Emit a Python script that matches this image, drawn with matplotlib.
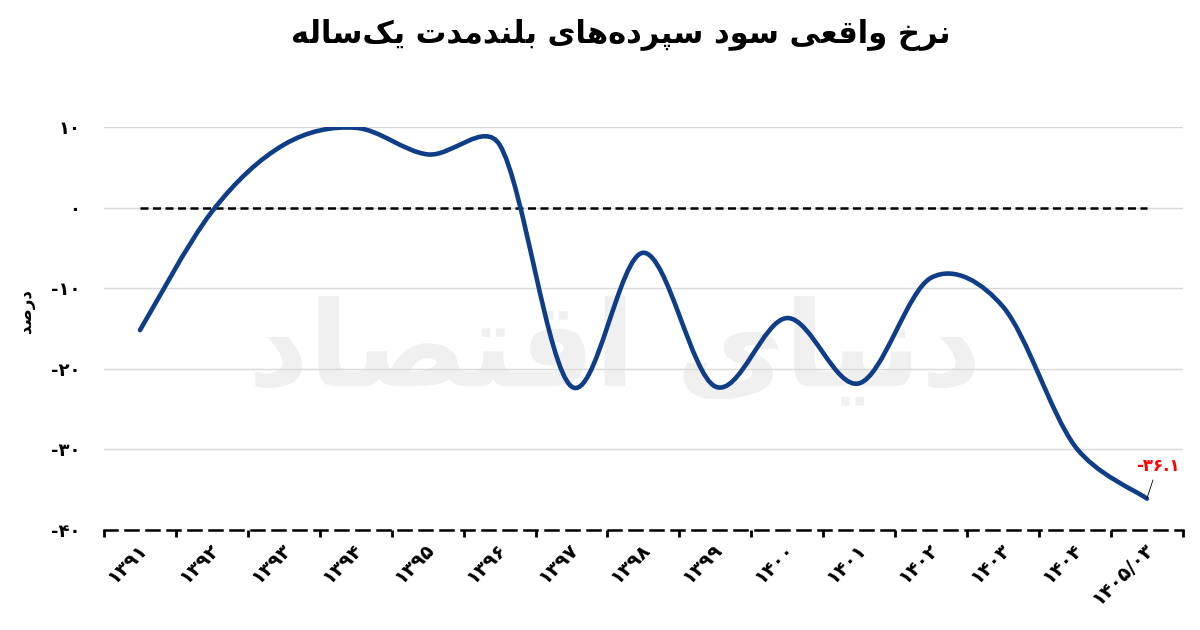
import numpy as np
import matplotlib.pyplot as plt
from matplotlib.path import Path
from matplotlib.patches import PathPatch
from matplotlib.transforms import ScaledTranslation

plt.rcParams['font.family'] = ['DejaVu Sans']
plt.rcParams['font.weight'] = 'bold'

# داده‌ها
years = ['1391', '1392', '1393', '1394', '1395', '1396', '1397', '1398',
         '1399', '1400', '1401', '1402', '1403', '1404', '1405/03']
rates = [-15.2, -0.5, 7.8, 9.9, 6.6, 7.8, -22.2, -5.6,
         -22.2, -13.7, -21.8, -8.7, -12.3, -29.6, -36.1]
zero_line = [0] * len(years)
y_ticks = [10, 0, -10, -20, -30, -40]
title = 'نرخ واقعی سود سپرده‌های بلندمدت یک‌ساله'
y_title = 'درصد'
watermark = 'دنیای اقتصاد'
last_label = '-36.1'

fa_digits = str.maketrans('0123456789', '۰۱۲۳۴۵۶۷۸۹')

# شکل‌دهی حروف فارسی (matplotlib خودش حروف را به هم نمی‌چسباند)
# isolated, final, initial, medial
FORMS = {
    'ا': (0xFE8D, 0xFE8E, None, None),
    'د': (0xFEA9, 0xFEAA, None, None),
    'ر': (0xFEAD, 0xFEAE, None, None),
    'و': (0xFEED, 0xFEEE, None, None),
    'ب': (0xFE8F, 0xFE90, 0xFE91, 0xFE92),
    'ت': (0xFE95, 0xFE96, 0xFE97, 0xFE98),
    'خ': (0xFEA5, 0xFEA6, 0xFEA7, 0xFEA8),
    'س': (0xFEB1, 0xFEB2, 0xFEB3, 0xFEB4),
    'ص': (0xFEB9, 0xFEBA, 0xFEBB, 0xFEBC),
    'ع': (0xFEC9, 0xFECA, 0xFECB, 0xFECC),
    'ق': (0xFED5, 0xFED6, 0xFED7, 0xFED8),
    'ل': (0xFEDD, 0xFEDE, 0xFEDF, 0xFEE0),
    'م': (0xFEE1, 0xFEE2, 0xFEE3, 0xFEE4),
    'ن': (0xFEE5, 0xFEE6, 0xFEE7, 0xFEE8),
    'ه': (0xFEE9, 0xFEEA, 0xFEEB, 0xFEEC),
    'پ': (0xFB56, 0xFB57, 0xFB58, 0xFB59),
    'ک': (0xFB8E, 0xFB8F, 0xFB90, 0xFB91),
    'ی': (0xFBFC, 0xFBFD, 0xFBFE, 0xFBFF),
}


def shape(text):
    out = []
    for i, c in enumerate(text):
        if c not in FORMS:
            if c != '\u200c':
                out.append(c)
            continue
        prev = text[i - 1] if i > 0 else None
        nxt = text[i + 1] if i + 1 < len(text) else None
        jp = prev in FORMS and FORMS[prev][2] is not None
        jn = nxt in FORMS and FORMS[c][2] is not None
        if jp and jn:
            k = 3
        elif jp:
            k = 1
        elif jn:
            k = 2
        else:
            k = 0
        out.append(chr(FORMS[c][k]))
    return ''.join(reversed(out))


def smooth_path(x, y, sx, sy, k=0.4):
    # خط نرم شبیه اکسل (کتمول-رام، دسته‌ها به ۰.۴ طول قطعه محدود می‌شوند)
    p = np.column_stack([np.asarray(x, float) * sx, np.asarray(y, float) * sy])
    n = len(p)
    h = np.array([(p[min(i + 1, n - 1)] - p[max(i - 1, 0)]) / 6 for i in range(n)])
    verts = [p[0]]
    codes = [Path.MOVETO]
    for i in range(n - 1):
        seg = np.hypot(*(p[i + 1] - p[i]))
        h1 = h[i] * min(1, k * seg / max(np.hypot(*h[i]), 1e-9))
        h2 = h[i + 1] * min(1, k * seg / max(np.hypot(*h[i + 1]), 1e-9))
        verts += [p[i] + h1, p[i + 1] - h2, p[i + 1]]
        codes += [Path.CURVE4] * 3
    verts = np.array(verts) / [sx, sy]
    return Path(verts, codes)


fig = plt.figure(figsize=(12, 6.3), dpi=100)
ax = fig.add_axes([0.0867, 0.1587, 0.899, 0.6397])

x = np.arange(len(years))
ax.set_xlim(-0.5, len(years) - 0.5)
ax.set_ylim(-40, 10)

# مقیاس پیکسلی محورها
bbox = ax.get_window_extent()
sx = bbox.width / len(years)
sy = bbox.height / 50

# واترمارک
ax.text(6.6, -18, shape(watermark), fontsize=85, color='#f0f0f0',
        ha='center', va='center', zorder=0)

ax.plot(x, zero_line, color='black', lw=1.8, ls=(0, (3.2, 1.8)), zorder=2)
ax.add_patch(PathPatch(smooth_path(x, rates, sx, sy), facecolor='none',
                       edgecolor='#0f3d87', lw=3.3, capstyle='round', zorder=3))

ax.annotate(last_label.translate(fa_digits), xy=(x[-1], rates[-1]),
            xytext=(x[-1] + 0.15, -32.0), color='red', fontsize=12,
            fontweight='bold', ha='center', va='center',
            arrowprops=dict(arrowstyle='-', color='black', lw=0.6,
                            shrinkA=2, shrinkB=0))

ax.set_yticks(y_ticks)
ax.set_yticklabels([str(v).translate(fa_digits) for v in y_ticks],
                   fontsize=13, fontweight='bold')
ax.tick_params(axis='y', length=0, pad=17)
ax.yaxis.grid(True, color='#d9d9d9', lw=1)
ax.set_axisbelow(True)

ax.set_xticks(x)
ax.set_xticklabels([y.translate(fa_digits) for y in years], rotation=45,
                   ha='right', rotation_mode='anchor', fontsize=14,
                   fontweight='bold')
ax.tick_params(axis='x', which='major', length=0, pad=7)
shift = ScaledTranslation(-3 / 100, 0, fig.dpi_scale_trans)
for lab in ax.get_xticklabels():
    lab.set_transform(lab.get_transform() + shift)
ax.set_xticks(np.arange(-0.5, len(years)), minor=True)
ax.tick_params(axis='x', which='minor', length=5, width=2, color='black')

for s in ['top', 'right', 'left']:
    ax.spines[s].set_visible(False)
ax.spines['bottom'].set_color('black')
ax.spines['bottom'].set_linewidth(1.8)
ax.spines['bottom'].set_linestyle((0, (5.2, 3.2)))

ax.set_ylabel(shape(y_title), fontsize=12, fontweight='bold')
ax.yaxis.set_label_coords(-0.064, 0.543)
fig.text(0.517, 0.945, shape(title), fontsize=22, fontweight='bold',
         ha='center', va='center')

fig.savefig('out.png', dpi=100)
